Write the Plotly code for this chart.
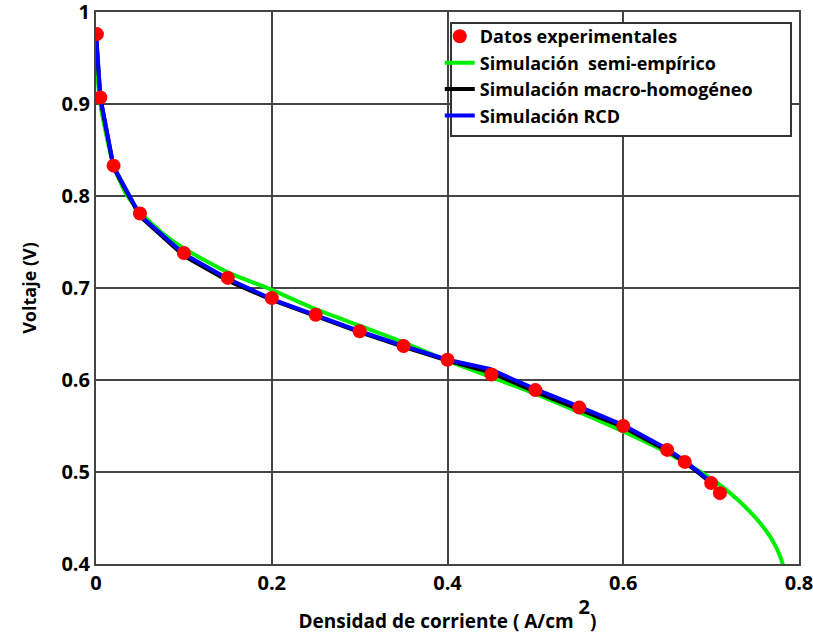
import plotly.graph_objects as go

# Experimental data
exp_x = [0.001, 0.005, 0.02, 0.05, 0.10, 0.15, 0.20, 0.25, 0.30, 0.35, 0.40, 0.45, 0.50, 0.55, 0.60, 0.65, 0.67, 0.70, 0.71]
exp_y = [0.976, 0.907, 0.833, 0.781, 0.738, 0.711, 0.689, 0.671, 0.653, 0.637, 0.622, 0.606, 0.589, 0.570, 0.550, 0.524, 0.511, 0.488, 0.477]

# Semi-empirical simulation (green)
semi_x = [0.0, 0.002, 0.005, 0.01, 0.02, 0.035, 0.05, 0.075, 0.10, 0.15, 0.20, 0.25, 0.30, 0.35, 0.40, 0.45, 0.50, 0.55, 0.60, 0.65, 0.69, 0.71, 0.73, 0.745, 0.757, 0.767, 0.774, 0.779, 0.782]
semi_y = [0.965, 0.928, 0.900, 0.874, 0.833, 0.801, 0.783, 0.760, 0.743, 0.717, 0.698, 0.677, 0.659, 0.641, 0.621, 0.603, 0.585, 0.565, 0.544, 0.521, 0.499, 0.486, 0.470, 0.456, 0.443, 0.430, 0.418, 0.407, 0.398]

# Macro-homogeneous simulation (black)
macro_x = [0.0, 0.005, 0.02, 0.05, 0.10, 0.15, 0.20, 0.25, 0.30, 0.35, 0.40, 0.45, 0.50, 0.55, 0.60, 0.65, 0.67, 0.70]
macro_y = [0.976, 0.906, 0.831, 0.778, 0.735, 0.708, 0.687, 0.669, 0.652, 0.636, 0.621, 0.608, 0.587, 0.568, 0.549, 0.523, 0.511, 0.488]

# RCD simulation (blue)
rcd_x = [0.0, 0.005, 0.02, 0.05, 0.10, 0.15, 0.20, 0.25, 0.30, 0.35, 0.40, 0.448, 0.50, 0.55, 0.60, 0.65, 0.67, 0.70]
rcd_y = [0.978, 0.907, 0.832, 0.779, 0.737, 0.710, 0.688, 0.670, 0.653, 0.637, 0.622, 0.612, 0.590, 0.571, 0.551, 0.525, 0.512, 0.489]

x_ticks = [0, 0.2, 0.4, 0.6, 0.8]
x_tick_labels = ["0", "0.2", "0.4", "0.6", "0.8"]
y_ticks = [0.4, 0.5, 0.6, 0.7, 0.8, 0.9, 1.0]
y_tick_labels = ["0.4", "0.5", "0.6", "0.7", "0.8", "0.9", "1"]

FONT = "Open Sans"

fig = go.Figure()
fig.add_trace(go.Scatter(x=semi_x, y=semi_y, mode="lines", name="Simulación  semi-empírico",
                         line=dict(color="#00ee00", width=4, shape="spline", smoothing=0.6), legendrank=2))
fig.add_trace(go.Scatter(x=macro_x, y=macro_y, mode="lines", name="Simulación macro-homogéneo",
                         line=dict(color="black", width=4), legendrank=3))
fig.add_trace(go.Scatter(x=rcd_x, y=rcd_y, mode="lines", name="Simulación RCD",
                         line=dict(color="#0000ff", width=4), legendrank=4))
fig.add_trace(go.Scatter(x=exp_x, y=exp_y, mode="markers", name="Datos experimentales",
                         marker=dict(color="#ff0000", size=14), legendrank=1))

# legend frame (white box with border)
fig.add_shape(type="rect", xref="paper", yref="paper", x0=0.505, x1=0.9886, y0=0.7754, y1=0.980,
              fillcolor="white", line=dict(color="#333", width=2), layer="above")

fig.update_layout(
    width=813, height=634,
    margin=dict(l=96, r=14, t=12, b=70),
    paper_bgcolor="white", plot_bgcolor="white",
    font=dict(family=FONT, size=18, color="black"),
    legend=dict(x=0.489, y=0.989, xanchor="left", yanchor="top",
                bgcolor="rgba(0,0,0,0)", borderwidth=0,
                font=dict(family=FONT, size=18, color="black", weight="bold"),
                tracegroupgap=0, itemwidth=30),
    xaxis=dict(range=[0, 0.8], tickvals=x_ticks, ticktext=x_tick_labels,
               showgrid=True, gridcolor="#444", gridwidth=1.5,
               showline=True, linecolor="#444", linewidth=2, mirror=True,
               zeroline=False, ticks="", automargin=False, ticklabeloverflow="allow",
               tickfont=dict(family=FONT, size=20, weight="bold"),
               title=dict(text="Densidad de corriente ( A/cm <sup><sup><span style='font-size:20px'>2</span></sup></sup>)",
                          standoff=11,
                          font=dict(family=FONT, size=19, weight="bold"))),
    yaxis=dict(range=[0.4, 1.0], tickvals=y_ticks, ticktext=y_tick_labels,
               showgrid=True, gridcolor="#444", gridwidth=1.5,
               showline=True, linecolor="#444", linewidth=2, mirror=True,
               zeroline=False, ticks="", automargin=False, ticklabeloverflow="allow",
               tickfont=dict(family=FONT, size=20, weight="bold"),
               title=dict(text="Voltaje (V)", standoff=20,
                          font=dict(family=FONT, size=18, weight="bold"))),
)

fig.write_html("out.html", config={"displayModeBar": False},
               post_script="document.body.style.margin='0px';")
